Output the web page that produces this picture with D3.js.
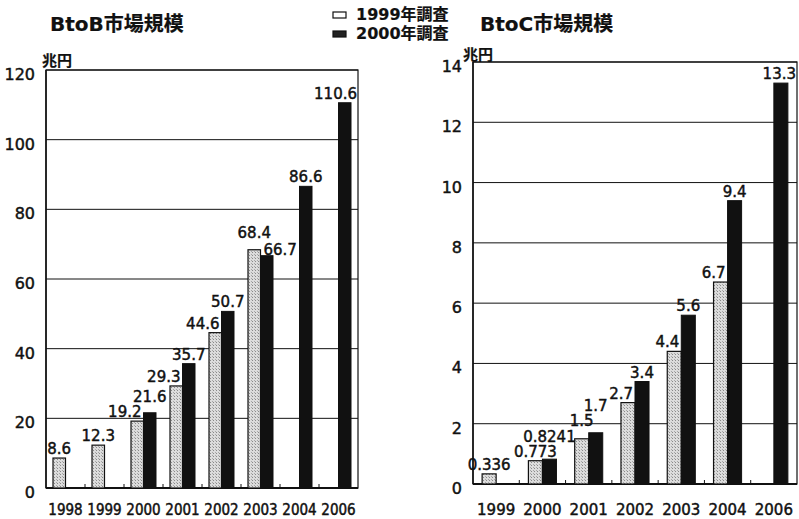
<!DOCTYPE html>
<html><head><meta charset="utf-8">
<script src="https://cdn.jsdelivr.net/npm/d3@7"></script>
<style>
body{margin:0;background:#fff;}
text{font-family:"DejaVu Sans","Noto Sans CJK JP",sans-serif;fill:#111;stroke:#111;stroke-width:0.45px;}
.jp{font-family:"DejaVu Sans","Noto Sans CJK JP",sans-serif;font-weight:bold;stroke-width:0.2px;}
.cond{font-family:"DejaVu Sans Condensed","DejaVu Sans",sans-serif;}
</style></head>
<body>
<svg id="c" width="799" height="519"></svg>
<script>
// ---- data ----
const seriesNames = ["1999年調査", "2000年調査"];
const btobYears = ["1998","1999","2000","2001","2002","2003","2004","2006"];
const btob1999 = [8.6, 12.3, 19.2, 29.3, 44.6, 68.4, null, null];
const btob2000 = [null, null, 21.6, 35.7, 50.7, 66.7, 86.6, 110.6];
const btobTicks = [0,20,40,60,80,100,120];
const btocYears = ["1999","2000","2001","2002","2003","2004","2006"];
const btoc1999 = [0.336, 0.773, 1.5, 2.7, 4.4, 6.7, null];
const btoc2000 = [null, 0.8241, 1.7, 3.4, 5.6, 9.4, 13.3];
const btocTicks = [0,2,4,6,8,10,12,14];
const btobLabels1999 = ["8.6","12.3","19.2","29.3","44.6","68.4",null,null];
const btobLabels2000 = [null,null,"21.6","35.7","50.7","66.7","86.6","110.6"];
const btocLabels1999 = ["0.336","0.773","1.5","2.7","4.4","6.7",null];
const btocLabels2000 = [null,"0.8241","1.7","3.4","5.6","9.4","13.3"];

const svg = d3.select("#c");
const defs = svg.append("defs");
const pat = defs.append("pattern").attr("id","dots").attr("width",3).attr("height",3).attr("patternUnits","userSpaceOnUse");
pat.append("rect").attr("width",3).attr("height",3).attr("fill","#dcdcdc");
pat.append("rect").attr("x",0).attr("y",0).attr("width",1).attr("height",1).attr("fill","#8a8a8a");
pat.append("rect").attr("x",2).attr("y",2).attr("width",1).attr("height",1).attr("fill","#a8a8a8");

function chart(opt){
  const {years, s1, s2, l1, l2, ticks, x0, x1, yTop, yBot, maxV, innerPad, title, titleX, unitX, unitY, tickCls, tickFs} = opt;
  const g = svg.append("g");
  const x = d3.scaleBand().domain(years).range([x0, x1]).padding(0);
  const xi = d3.scaleBand().domain(seriesNames).range([0, x.bandwidth()]).paddingInner(0).paddingOuter(innerPad);
  const y = d3.scaleLinear().domain([0, maxV]).range([yBot, yTop]);

  g.selectAll(".grid").data(ticks.filter(t=>t>0)).join("line")
    .attr("x1", x0).attr("x2", x1).attr("y1", d=>y(d)).attr("y2", d=>y(d))
    .attr("stroke","#111").attr("stroke-width",1);
  g.append("rect").attr("x",x0).attr("y",yTop).attr("width",x1-x0).attr("height",yBot-yTop)
    .attr("fill","none").attr("stroke","#111").attr("stroke-width",1.2);
  g.append("line").attr("x1",x0).attr("x2",x1).attr("y1",yBot).attr("y2",yBot).attr("stroke","#111").attr("stroke-width",2);
  g.append("line").attr("x1",x0).attr("x2",x0).attr("y1",yTop).attr("y2",yBot).attr("stroke","#111").attr("stroke-width",1.5);

  g.selectAll(".bt").data(years.slice(1)).join("line")
    .attr("x1", d=>x(d)).attr("x2", d=>x(d)).attr("y1", yBot).attr("y2", yBot-4)
    .attr("stroke","#111").attr("stroke-width",1);

  g.selectAll(".yl").data(ticks).join("text")
    .attr("x", x0-11).attr("y", d=>y(d)+10).attr("text-anchor","end")
    .attr("font-size", 16).text(d=>d);

  g.selectAll(".xl").data(years).join("text").attr("class", tickCls)
    .attr("x", d=>x(d)+x.bandwidth()/2).attr("y", 515).attr("text-anchor","middle")
    .attr("font-size", tickFs).text(d=>d);

  const rows = years.map((yr,i)=>({yr, v1:s1[i], v2:s2[i], t1:l1[i], t2:l2[i]}));
  const b1 = rows.filter(r=>r.v1!=null);
  const b2 = rows.filter(r=>r.v2!=null);
  g.selectAll(".b1").data(b1).join("rect")
    .attr("x", d=>x(d.yr)+xi(seriesNames[0])).attr("width", xi.bandwidth())
    .attr("y", d=>y(d.v1)).attr("height", d=>yBot-y(d.v1))
    .attr("fill","url(#dots)").attr("stroke","#111").attr("stroke-width",1.2);
  g.selectAll(".b2").data(b2).join("rect")
    .attr("x", d=>x(d.yr)+xi(seriesNames[1])).attr("width", xi.bandwidth())
    .attr("y", d=>y(d.v2)).attr("height", d=>yBot-y(d.v2))
    .attr("fill","#111").attr("stroke","#111").attr("stroke-width",1);

  // value labels
  const both = r => r.v1!=null && r.v2!=null;
  const close = r => both(r) && Math.abs(y(r.v1)-y(r.v2))<18;
  const lx = d => x(d.yr)+xi(seriesNames[0]);
  const dx = d => x(d.yr)+xi(seriesNames[1]);
  const bw = xi.bandwidth();
  const sideL = d => both(d) && d.v2>=d.v1 && d.t1.length<=4 && (y(d.v1)-4-3) > y(d.v2);
  const labels = [];
  rows.forEach(d => {
    if (d.v1!=null) labels.push({t:d.t1, x: sideL(d) ? lx(d)+bw-2 : lx(d)+bw/2, a: sideL(d) ? "end" : "middle",
      y: (close(d) && d.v1>d.v2) ? y(d.v1)-12 : y(d.v1)-4});
    if (d.v2!=null) labels.push({t:d.t2, x: (close(d) && d.v1>d.v2) ? dx(d)+3 : dx(d)+bw/2, a: (close(d) && d.v1>d.v2) ? "start" : "middle",
      y: (close(d) && d.v2>=d.v1) ? Math.min(y(d.v2)-4, y(d.v1)-18) : (close(d) ? y(d.v2)-1 : y(d.v2)-4)});
  });
  const texts = g.selectAll(".vl").data(labels).join("text")
    .attr("x", d=>d.x).attr("y", d=>d.y).attr("text-anchor", d=>d.a).attr("font-size",15).text(d=>d.t);
  const placed = [];
  texts.each(function(d){
    const w = this.getComputedTextLength();
    let left = d.a==="middle" ? d.x-w/2 : d.a==="end" ? d.x-w : d.x;
    if (left + w > x1-1) { left = x1-1-w; this.setAttribute("text-anchor","end"); this.setAttribute("x", x1-1); }
    let base = d.y;
    const hit = () => placed.some(p => left < p.r && left+w > p.l && base-13 < p.b+2 && base+2 > p.b-13);
    while (hit()) base -= 1;
    this.setAttribute("y", base);
    placed.push({l:left, r:left+w, b:base});
  });

  svg.append("text").attr("class","jp").attr("x",titleX).attr("y",31).attr("font-size",20).text(title);
  svg.append("text").attr("class","jp").attr("x",unitX).attr("y",unitY).attr("font-size",15).text("兆円");
}

chart({years:btobYears, s1:btob1999, s2:btob2000, l1:btobLabels1999, l2:btobLabels2000, ticks:btobTicks,
  x0:46, x1:358, yTop:70, yBot:488, maxV:120, innerPad:0.56, title:"BtoB市場規模", titleX:50, unitX:42, unitY:66, tickCls:"cond", tickFs:15});
chart({years:btocYears, s1:btoc1999, s2:btoc2000, l1:btocLabels1999, l2:btocLabels2000, ticks:btocTicks,
  x0:473, x1:797, yTop:62, yBot:484, maxV:14, innerPad:0.65, title:"BtoC市場規模", titleX:480, unitX:463, unitY:60, tickCls:"", tickFs:15});

const leg = svg.append("g");
leg.selectAll("rect").data(seriesNames).join("rect")
  .attr("x",333).attr("y",(d,i)=>12+i*19).attr("width",13).attr("height",6)
  .attr("fill",(d,i)=>i===0?"#fff":"#222").attr("stroke","#111").attr("stroke-width",1.2);
leg.selectAll("text").data(seriesNames).join("text").attr("class","jp")
  .attr("x",356).attr("y",(d,i)=>20+i*19).attr("font-size",16).text(d=>d);
</script>
</body></html>
